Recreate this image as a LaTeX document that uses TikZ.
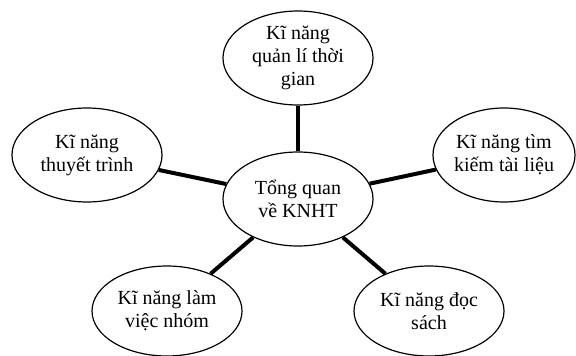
\documentclass[tikz,border=0pt]{standalone}
\usepackage{fontspec}
\setmainfont{Liberation Serif}
\usetikzlibrary{shapes.geometric}
\tikzset{
  skill/.style={ellipse, draw=black, line width=1.2pt, fill=white,
    minimum width=150pt, minimum height=94pt, inner sep=0pt,
    align=center, font=\fontsize{20}{23}\selectfont},
  link/.style={line width=4pt},
}

\begin{document}
\begin{tikzpicture}[x=1pt, y=-1pt]
\useasboundingbox (0,0) rectangle (576,356);

% --- Centre ---
\node[skill] (tq) at (298,199) {Tổng quan\\về KNHT};

% --- Skills around it ---
\node[skill] (qltg) at (298,58) {Kĩ năng\\quản lí thời\\gian};
\node[skill] (tt) at (87,155) {Kĩ năng\\thuyết trình};
\node[skill, minimum width=142pt] (tktl) at (504,155) {Kĩ năng tìm\\kiếm tài liệu};
\node[skill, minimum height=90pt] (lvn) at (167,311) {Kĩ năng làm\\việc nhóm};
\node[skill, minimum height=90pt] (ds) at (429,311) {Kĩ năng đọc\\sách};

% --- Links ---
\draw[link] (tq) -- (qltg);
\draw[link] (tq) -- (tt);
\draw[link] (tq) -- (tktl);
\draw[link] (tq) -- (lvn);
\draw[link] (tq) -- (ds);

\end{tikzpicture}
\end{document}
